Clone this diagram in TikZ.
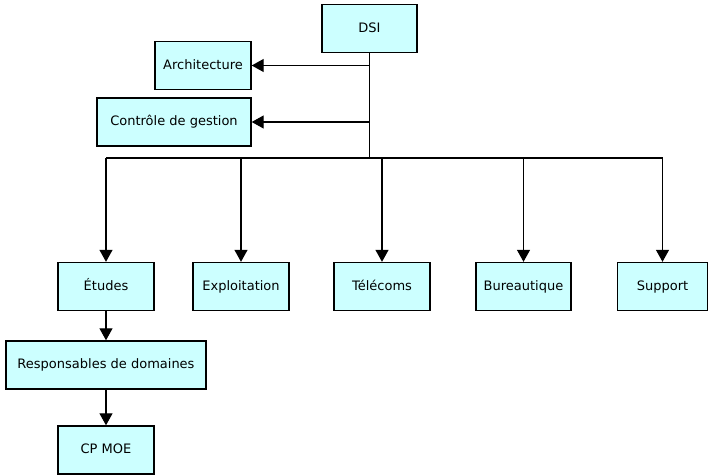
\documentclass[tikz,border=0pt]{standalone}
\usepackage{fontspec}
\setmainfont{DejaVu Sans}
\usetikzlibrary{arrows.meta}
\definecolor{boxfill}{HTML}{CCFFFF}
\begin{document}
\begin{tikzpicture}[x=1pt,y=-1pt,
  box/.style={draw=black,line width=1.4pt,fill=boxfill,minimum height=48pt,inner sep=0pt,text height=10pt,text depth=3pt,font=\fontsize{13}{15}\selectfont},
  link/.style={line width=1.2pt},
  arr/.style={line width=1.2pt,-{Triangle[width=13pt,length=12pt]}}]
\useasboundingbox (0,0) rectangle (708,475);
\node[box,minimum width=95pt] (dsi) at (369.5,28.5) {DSI};
\node[box,minimum width=96pt] (arch) at (203,65.5) {Architecture};
\node[box,minimum width=154pt] (cdg) at (174,122) {Contrôle de gestion};
\node[box,minimum width=96pt] (etu) at (106,286.5) {Études};
\node[box,minimum width=96pt] (exp) at (241,286.5) {Exploitation};
\node[box,minimum width=96pt] (tel) at (382,286.5) {Télécoms};
\node[box,minimum width=95pt] (bur) at (523.5,286.5) {Bureautique};
\node[box,minimum width=90pt] (sup) at (662.5,286.5) {Support};
\node[box,minimum width=200pt] (resp) at (106,365) {Responsables de domaines};
\node[box,minimum width=96pt] (cp) at (106,450) {CP MOE};
\coordinate (bus) at (369.5,158);
\draw[link] (dsi.south) -- (bus);
\draw[arr] (dsi.south |- arch.east) -- (arch.east);
\draw[arr] (dsi.south |- cdg.east) -- (cdg.east);
\draw[link] (etu.north |- bus) -- (sup.north |- bus);
\foreach \n in {etu,exp,tel,bur,sup}{
  \draw[arr] (\n.north |- bus) -- (\n.north);
}
\draw[arr] (etu.south) -- (resp.north);
\draw[arr] (resp.south) -- (cp.north);
\end{tikzpicture}
\end{document}
